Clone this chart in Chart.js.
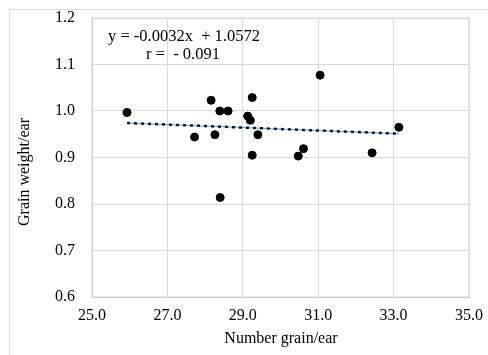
<!DOCTYPE html>
<html><head><meta charset="utf-8">
<script src="https://cdn.jsdelivr.net/npm/chart.js@4"></script>
<style>
html,body{margin:0;padding:0;background:#fff;}
#wrap{position:relative;width:488px;height:355px;}
#frame{position:absolute;left:9px;top:9px;right:0;bottom:0;border-top:1px solid #d9d9d9;border-left:1px solid #d9d9d9;pointer-events:none;}
canvas{position:absolute;left:0;top:0;}
</style></head><body>
<div id="wrap"><canvas id="c" width="488" height="355"></canvas><div id="frame"></div></div>
<script>
const grainNumber = [25.93, 28.16, 28.39, 28.61, 29.25, 29.13, 29.20, 31.05, 27.72, 28.26, 29.40, 33.14, 30.61, 30.47, 29.25, 32.43, 28.40];
const grainWeight = [0.997, 1.023, 1.000, 1.000, 1.029, 0.989, 0.980, 1.077, 0.944, 0.949, 0.949, 0.965, 0.919, 0.903, 0.905, 0.910, 0.814];
const trendSlope = -0.0032;
const trendIntercept = 1.0572;
const equationLabels = ["y = -0.0032x  + 1.0572", "r =  - 0.091"];
const xTitle = "Number grain/ear";
const yTitle = "Grain weight/ear";

const xMin = Math.min(...grainNumber), xMax = Math.max(...grainNumber);
const trendData = [xMin, xMax].map(x => ({x: x, y: trendSlope * x + trendIntercept}));
const points = grainNumber.map((x, i) => ({x: x, y: grainWeight[i]}));

const FONT = "'Liberation Serif','Times New Roman',serif";

const textPlugin = {
  id: 'texts',
  afterDraw(chart) {
    const ctx = chart.ctx;
    ctx.save();
    ctx.fillStyle = '#000';
    ctx.font = "16.5px " + FONT;
    ctx.textBaseline = 'middle';
    ctx.textAlign = 'left';
    ctx.fillText(equationLabels[0], 108, 37);
    ctx.fillText(equationLabels[1], 146, 55);
    ctx.font = "16px " + FONT;
    ctx.textAlign = 'center';
    ctx.fillText(xTitle, 281, 339);
    ctx.translate(25, 172);
    ctx.rotate(-Math.PI / 2);
    ctx.fillText(yTitle, 0, 0);
    ctx.restore();
  }
};

new Chart(document.getElementById('c'), {
  type: 'scatter',
  data: {
    datasets: [
      {
        type: 'line',
        data: trendData,
        borderColor: '#5b9bd5',
        borderWidth: 1,
        pointRadius: 0,
        fill: false,
        order: 3
      },
      {
        type: 'line',
        data: trendData,
        borderColor: '#111827',
        borderWidth: 2.5,
        borderDash: [3, 4],
        pointRadius: 0,
        fill: false,
        order: 2
      },
      {
        data: points,
        backgroundColor: '#000',
        borderColor: '#000',
        pointRadius: 4,
        pointHoverRadius: 4,
        order: 1
      }
    ]
  },
  options: {
    responsive: false,
    animation: false,
    events: [],
    layout: {padding: {left: 0, right: 19, top: 18, bottom: 0}},
    plugins: {legend: {display: false}, tooltip: {enabled: false}},
    scales: {
      x: {
        type: 'linear',
        min: 25, max: 35,
        ticks: {stepSize: 2, color: '#000', font: {family: FONT, size: 16}, padding: 9,
          callback: v => v.toFixed(1)},
        grid: {color: '#d9d9d9', lineWidth: 1, drawTicks: false},
        border: {color: '#bfbfbf'},
        afterFit: s => { s.height = 58; s.paddingLeft = 0; s.paddingRight = 0; }
      },
      y: {
        min: 0.6, max: 1.2,
        ticks: {stepSize: 0.1, color: '#000', font: {family: FONT, size: 16}, padding: 17,
          callback: v => v.toFixed(1)},
        grid: {color: '#d9d9d9', lineWidth: 1, drawTicks: false},
        border: {color: '#bfbfbf'},
        afterFit: s => { s.width = 92; s.paddingTop = 0; s.paddingBottom = 0; }
      }
    }
  },
  plugins: [textPlugin, {
    id: 'frameBox',
    beforeDatasetsDraw(chart) {
      const {ctx, chartArea: a} = chart;
      ctx.save();
      ctx.strokeStyle = '#d9d9d9';
      ctx.lineWidth = 1;
      ctx.strokeRect(a.left, a.top, a.right - a.left, a.bottom - a.top);
      ctx.restore();
    }
  }]
});
</script>
</body></html>
